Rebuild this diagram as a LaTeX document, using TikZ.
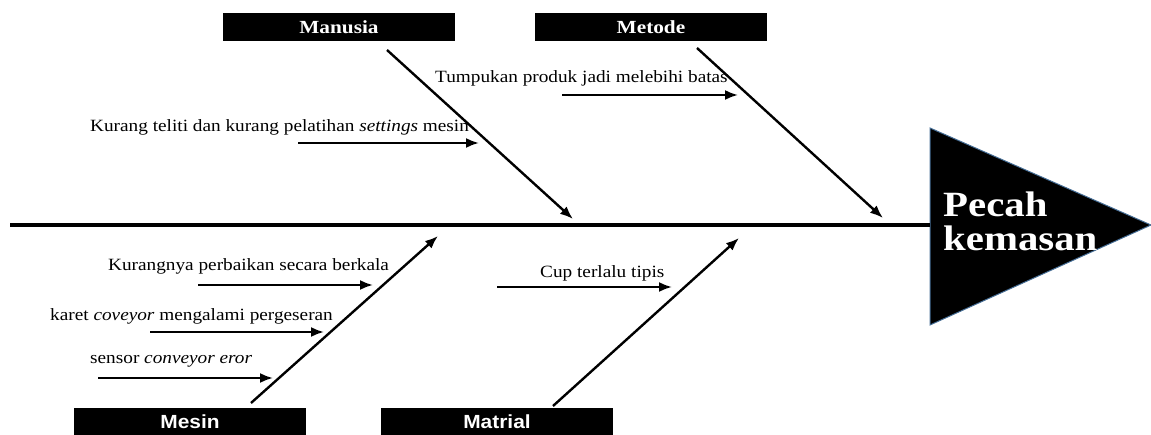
\documentclass[tikz,border=0pt]{standalone}
\usepackage{fontspec}
\setmainfont{Liberation Serif}
\newfontfamily\lblfont[FakeStretch=1.12]{Liberation Serif}
\newfontfamily\catfont[FakeStretch=1.15]{Liberation Serif}
\newfontfamily\catsans[FakeStretch=1.1]{Liberation Sans}
\usetikzlibrary{arrows.meta,positioning}
\definecolor{headedge}{RGB}{70,110,150}

\begin{document}
\begin{tikzpicture}[x=1pt, y=-1pt,
    cat node/.style={fill=black, text=white, minimum width=232pt, minimum height=28pt,
                     inner sep=0pt, font=\catfont\fontsize{18.5}{20}\selectfont\bfseries},
    catsans node/.style={cat node, font=\catsans\fontsize{19}{21}\selectfont\bfseries},
    cause/.style={anchor=west, inner sep=0pt, font=\lblfont\fontsize{17.2}{19}\selectfont},
    bone/.style={line width=2.4pt, -{Latex[length=13pt,width=10pt]}},
    small arrow/.style={line width=2.2pt, -{Latex[length=13pt,width=10pt]}}]

  \useasboundingbox (0,0) rectangle (1151,435);

  % head of the fish
  \draw[fill=black, draw=headedge, line width=1pt] (930,128) -- (1151,225) -- (930,325) -- cycle;
  \node[anchor=west, align=left, text=white, inner sep=0pt,
        font=\catfont\fontsize{35.5}{34}\selectfont\bfseries] (head) at (943,221) {Pecah\\kemasan};

  % spine
  \coordinate (tail) at (10,225);
  \coordinate (mouth) at (930,225);
  \draw[line width=4pt] (tail) -- (mouth);

  % category boxes
  \node[cat node] (manusia) at (339,27) {Manusia};
  \node[cat node] (metode) at (651,27) {Metode};
  \node[catsans node] (mesin) at (190,422) {Mesin};
  \node[catsans node] (matrial) at (497,422) {Matrial};

  % bones
  \coordinate (m1) at (387,50);   \coordinate (m2) at (573,219);
  \coordinate (t1) at (697,48);   \coordinate (t2) at (883,218);
  \coordinate (s1) at (251,403);  \coordinate (s2) at (438,236);
  \coordinate (r1) at (553,406);  \coordinate (r2) at (739,238);
  \draw[bone] (m1) -- (m2);
  \draw[bone] (t1) -- (t2);
  \draw[bone] (s1) -- (s2);
  \draw[bone] (r1) -- (r2);

  % causes
  \node[cause] (c1) at (435,78) {Tumpukan produk jadi melebihi batas};
  \node[cause] (c2) at (90,127) {Kurang teliti dan kurang pelatihan \textit{settings} mesin};
  \node[cause] (c3) at (108,266) {Kurangnya perbaikan secara berkala};
  \node[cause] (c4) at (50,316) {karet \textit{coveyor} mengalami pergeseran};
  \node[cause] (c5) at (90,361) {sensor \textit{conveyor eror}};
  \node[cause] (c6) at (540,273) {Cup terlalu tipis};

  \coordinate (a1) at (562,95);  \coordinate (b1) at (738,95);
  \coordinate (a2) at (298,143); \coordinate (b2) at (479,143);
  \coordinate (a3) at (198,285); \coordinate (b3) at (373,285);
  \coordinate (a4) at (150,332); \coordinate (b4) at (324,332);
  \coordinate (a5) at (98,378);  \coordinate (b5) at (273,378);
  \coordinate (a6) at (497,287); \coordinate (b6) at (672,287);
  \foreach \i in {1,...,6}
    \draw[small arrow] (a\i) -- (b\i);

\end{tikzpicture}
\end{document}
